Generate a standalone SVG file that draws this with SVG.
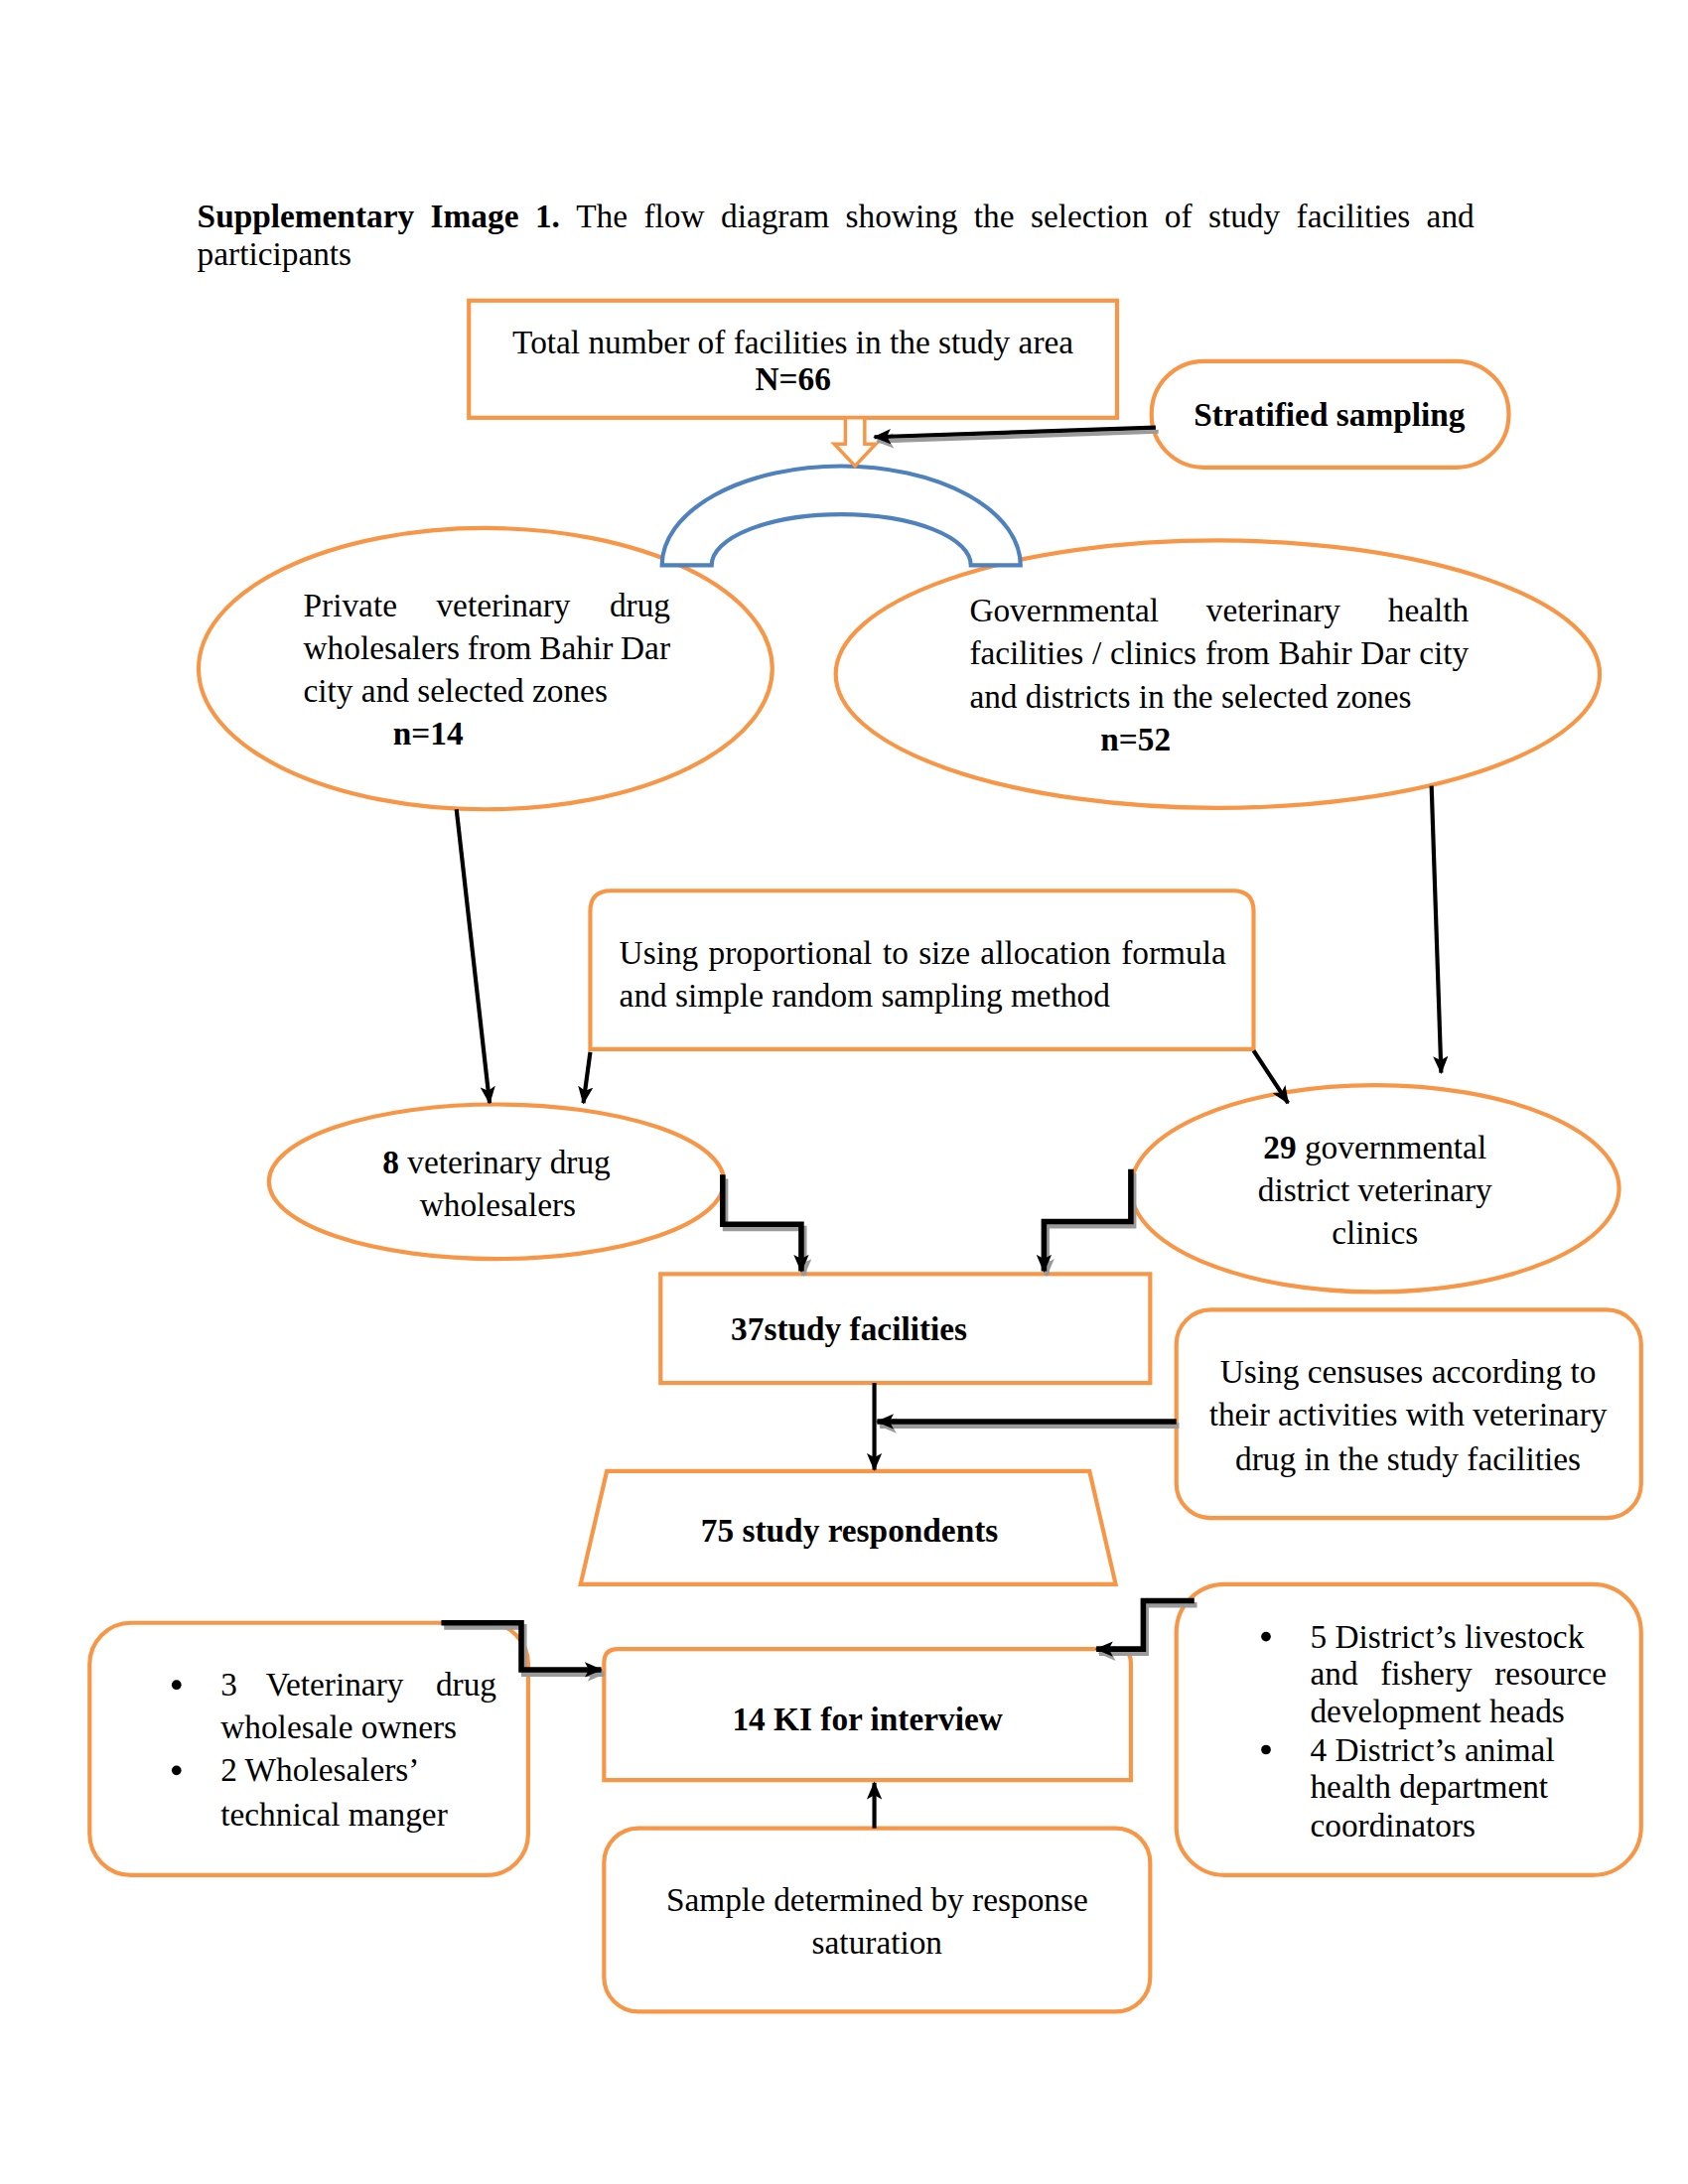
<svg xmlns="http://www.w3.org/2000/svg" width="1700" height="2200" viewBox="0 0 1700 2200">
<defs>
<style>
.t{font-family:"Liberation Serif","Times New Roman",serif;font-size:24px;fill:#000}
.b{font-weight:bold}
.c{text-anchor:middle}
.e{text-anchor:end}
.o{fill:#fff;stroke:#F79646;stroke-width:3}
.ln{fill:none;stroke:#000;stroke-width:3}
.sh{fill:none;stroke:#9a9a9a;stroke-width:3}
.lnT{fill:none;stroke:#000;stroke-width:4}
.shT{fill:none;stroke:#9a9a9a;stroke-width:4}
</style>
<marker id="ah" markerWidth="13" markerHeight="11" refX="12" refY="5.5" orient="auto" markerUnits="userSpaceOnUse"><path d="M0,0 L13,5.5 L0,11 L3,5.5 Z" fill="#000"/></marker>
<marker id="ahs" markerWidth="13" markerHeight="11" refX="12" refY="5.5" orient="auto" markerUnits="userSpaceOnUse"><path d="M0,0 L13,5.5 L0,11 L3,5.5 Z" fill="#9a9a9a"/></marker>
</defs>
<rect width="1700" height="2200" fill="#fff"/>
<g transform="scale(1.388889)">
<g id="title">
<text class="t" y="165"><tspan class="b" x="143">Supplementary</tspan><tspan class="b" x="312.2">Image</tspan><tspan class="b" x="388">1.</tspan><tspan x="417.8">The</tspan><tspan x="466.9">flow</tspan><tspan x="522.7">diagram</tspan><tspan x="613.1">showing</tspan><tspan x="706.2">the</tspan><tspan x="747.3">selection</tspan><tspan x="844.4">of</tspan><tspan x="876.2">study</tspan><tspan x="940">facilities</tspan></text>
<text class="t e" x="1069" y="165">and</text>
<text class="t" x="143" y="192">participants</text>
</g>
<g id="total">
<rect class="o" x="340" y="218" width="470" height="85"/>
<text class="t c" x="575" y="256">Total number of facilities in the study area</text>
<text class="t c b" x="575" y="283">N=66</text>
</g>
<g id="stratified">
<rect class="o" x="835" y="262" width="259" height="77" rx="38" ry="38"/>
<text class="t c b" x="964" y="309">Stratified sampling</text>
</g>
<g id="private">
<ellipse class="o" cx="352" cy="485" rx="208" ry="102"/>
<text class="t" y="447"><tspan x="220">Private</tspan><tspan x="316.4">veterinary</tspan></text>
<text class="t e" x="486" y="447">drug</text>
<text class="t" y="478"><tspan x="220">wholesalers</tspan><tspan x="338.9">from</tspan><tspan x="391.2">Bahir</tspan></text>
<text class="t e" x="486" y="478">Dar</text>
<text class="t" x="220" y="509">city and selected zones</text>
<text class="t b" x="285" y="540">n=14</text>
</g>
<g id="governmental">
<ellipse class="o" cx="883" cy="489" rx="277" ry="97"/>
<text class="t" y="451"><tspan x="703">Governmental</tspan><tspan x="874.7">veterinary</tspan></text>
<text class="t e" x="1065" y="451">health</text>
<text class="t" y="482"><tspan x="703">facilities</tspan><tspan x="792">/</tspan><tspan x="805">clinics</tspan><tspan x="874">from</tspan><tspan x="927">Bahir</tspan><tspan x="986.6">Dar</tspan></text>
<text class="t e" x="1065" y="482">city</text>
<text class="t" x="703" y="513">and districts in the selected zones</text>
<text class="t b" x="798" y="544">n=52</text>
</g>
<g id="arc">
<path d="M480,410 A130,72 0 0 1 740,410 L704,410 A94,37 0 0 0 516,410 Z" fill="#fff" stroke="#4F81BD" stroke-width="3"/>
</g>
<g id="blockarrow">
<polygon points="613,303 627,303 627,322 635,322 620,338 605,322 613,322" fill="#fff" stroke="#F79646" stroke-width="2.5"/>
</g>
<g id="proportional">
<path class="o" d="M428,761 V661 Q428,646 443,646 H894 Q909,646 909,661 V761 Z"/>
<text class="t" y="699"><tspan x="449">Using</tspan><tspan x="513.8">proportional</tspan><tspan x="640">to</tspan><tspan x="666.1">size</tspan><tspan x="710.9">allocation</tspan></text>
<text class="t e" x="889" y="699">formula</text>
<text class="t" x="449" y="730">and simple random sampling method</text>
</g>
<g id="wholesalers8">
<ellipse class="o" cx="360" cy="857" rx="165" ry="56"/>
<text class="t c" x="360" y="851"><tspan class="b">8</tspan> veterinary drug</text>
<text class="t c" x="361" y="882">wholesalers</text>
</g>
<g id="clinics29">
<ellipse class="o" cx="997" cy="862" rx="177" ry="75"/>
<text class="t c" x="997" y="840"><tspan class="b">29</tspan> governmental</text>
<text class="t c" x="997" y="871">district veterinary</text>
<text class="t c" x="997" y="902">clinics</text>
</g>
<g id="facilities37">
<rect class="o" x="479" y="924" width="355" height="79"/>
<text class="t b" x="530" y="972">37study facilities</text>
</g>
<g id="censuses">
<rect class="o" x="853" y="950" width="337" height="151" rx="25" ry="25"/>
<text class="t c" x="1021" y="1003">Using censuses according to</text>
<text class="t c" x="1021" y="1034">their activities with veterinary</text>
<text class="t c" x="1021" y="1066">drug in the study facilities</text>
</g>
<g id="respondents75">
<polygon class="o" points="440,1067 790,1067 809,1149 421,1149"/>
<text class="t c b" x="616" y="1118">75 study respondents</text>
</g>
<g id="leftKI">
<rect class="o" x="65" y="1177" width="318" height="183" rx="30" ry="30"/>
<circle cx="128" cy="1222" r="3.5" fill="#000"/>
<circle cx="128" cy="1284" r="3.5" fill="#000"/>
<text class="t" y="1230"><tspan x="160">3</tspan><tspan x="192.7">Veterinary</tspan></text>
<text class="t e" x="360" y="1230">drug</text>
<text class="t" x="160" y="1261">wholesale owners</text>
<text class="t" x="160" y="1292">2 Wholesalers’</text>
<text class="t" x="160" y="1324">technical manger</text>
</g>
<g id="ki14">
<path class="o" d="M438,1291 V1206 Q438,1196 448,1196 H810 Q820,1196 820,1206 V1291 Z"/>
<text class="t c b" x="629" y="1255">14 KI for interview</text>
</g>
<g id="rightKI">
<rect class="o" x="853" y="1149" width="337" height="211" rx="35" ry="35"/>
<circle cx="918" cy="1187" r="3.5" fill="#000"/>
<circle cx="918" cy="1269" r="3.5" fill="#000"/>
<text class="t" x="950" y="1195">5 District’s livestock</text>
<text class="t" y="1222"><tspan x="950">and</tspan><tspan x="1000.9">fishery</tspan></text>
<text class="t e" x="1165" y="1222">resource</text>
<text class="t" x="950" y="1249">development heads</text>
<text class="t" x="950" y="1277">4 District’s animal</text>
<text class="t" x="950" y="1304">health department</text>
<text class="t" x="950" y="1332">coordinators</text>
</g>
<g id="saturation">
<rect class="o" x="438" y="1326" width="396" height="133" rx="25" ry="25"/>
<text class="t c" x="636" y="1386">Sample determined by response</text>
<text class="t c" x="636" y="1417">saturation</text>
</g>
<g id="connectors">
<g transform="translate(2,3)">
<path class="sh" d="M838,310 L634,317" marker-end="url(#ahs)"/>
<path class="shT" d="M524,852 V888 H581 V922" marker-end="url(#ahs)"/>
<path class="shT" d="M820,848 V886 H757 V922" marker-end="url(#ahs)"/>
<path class="shT" d="M853,1031 H636" marker-end="url(#ahs)"/>
<path class="shT" d="M320,1177 H378 V1211 H436" marker-end="url(#ahs)"/>
<path class="shT" d="M866,1161 H829 V1196 H795" marker-end="url(#ahs)"/>
</g>
<path class="ln" d="M838,310 L634,317" marker-end="url(#ah)"/>
<path class="ln" d="M331,587 L355,800" marker-end="url(#ah)"/>
<path class="ln" d="M1038,570 L1045,778" marker-end="url(#ah)"/>
<path class="ln" d="M428,763 L423,800" marker-end="url(#ah)"/>
<path class="ln" d="M909,762 L934,800" marker-end="url(#ah)"/>
<path class="lnT" d="M524,852 V888 H581 V922" marker-end="url(#ah)"/>
<path class="lnT" d="M820,848 V886 H757 V922" marker-end="url(#ah)"/>
<path class="ln" d="M634,1003 V1066" marker-end="url(#ah)"/>
<path class="lnT" d="M853,1031 H636" marker-end="url(#ah)"/>
<path class="lnT" d="M320,1177 H378 V1211 H436" marker-end="url(#ah)"/>
<path class="lnT" d="M866,1161 H829 V1196 H795" marker-end="url(#ah)"/>
<path class="ln" d="M634,1326 V1293" marker-end="url(#ah)"/>
</g>
</g>
</svg>
